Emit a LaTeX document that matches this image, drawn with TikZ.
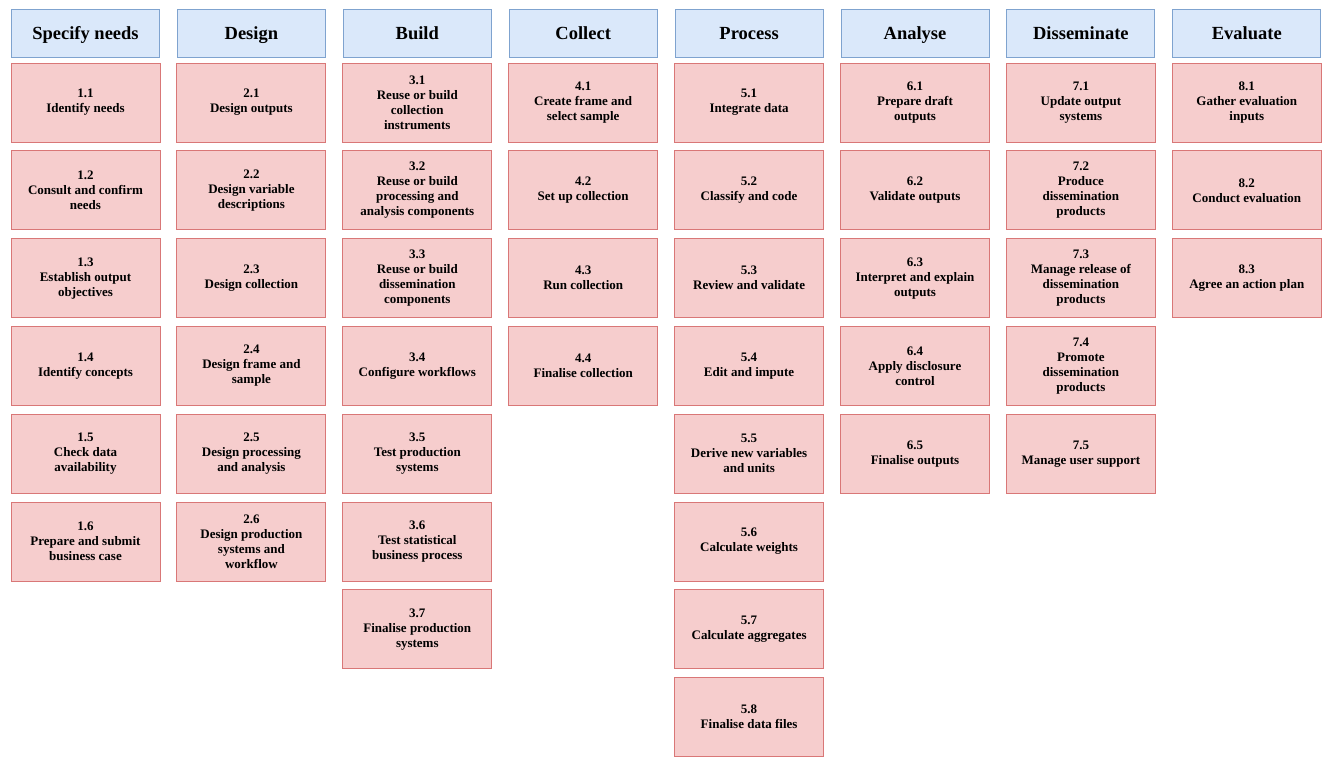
\documentclass[tikz,border=0pt]{standalone}
\usepackage{fontspec}
\setmainfont{Liberation Serif}
\definecolor{hfill}{HTML}{DAE8FA}
\definecolor{hdraw}{HTML}{7FA3CF}
\definecolor{bfill}{HTML}{F6CDCD}
\definecolor{bdraw}{HTML}{D97777}
\tikzset{
  hdrbox/.style={draw=hdraw, fill=hfill, line width=1pt, minimum width=148pt, minimum height=48pt, inner sep=0pt, text height=13pt, text depth=0pt, font=\fontsize{18.5}{21}\selectfont\bfseries, align=center},
  stepbox/.style={draw=bdraw, fill=bfill, line width=1pt, minimum width=149pt, minimum height=79pt, inner sep=0pt, font=\fontsize{13}{15}\selectfont\bfseries, align=center},
}
\begin{document}
\begin{tikzpicture}[x=1pt,y=-1pt]
\useasboundingbox (0,0) rectangle (1335,764);
\foreach \c/\t in {1/Specify needs,2/Design,3/Build,4/Collect,5/Process,6/Analyse,7/Disseminate,8/Evaluate}{
  \node[hdrbox] (h\c) at ({85.5+165.9*(\c-1)},33) {\t};
}
\foreach \c/\r/\t in {
 1/1/{1.1\\Identify needs},
 1/2/{1.2\\Consult and confirm\\needs},
 1/3/{1.3\\Establish output\\objectives},
 1/4/{1.4\\Identify concepts},
 1/5/{1.5\\Check data\\availability},
 1/6/{1.6\\Prepare and submit\\business case},
 2/1/{2.1\\Design outputs},
 2/2/{2.2\\Design variable\\descriptions},
 2/3/{2.3\\Design collection},
 2/4/{2.4\\Design frame and\\sample},
 2/5/{2.5\\Design processing\\and analysis},
 2/6/{2.6\\Design production\\systems and\\workflow},
 3/1/{3.1\\Reuse or build\\collection\\instruments},
 3/2/{3.2\\Reuse or build\\processing and\\analysis components},
 3/3/{3.3\\Reuse or build\\dissemination\\components},
 3/4/{3.4\\Configure workflows},
 3/5/{3.5\\Test production\\systems},
 3/6/{3.6\\Test statistical\\business process},
 3/7/{3.7\\Finalise production\\systems},
 4/1/{4.1\\Create frame and\\select sample},
 4/2/{4.2\\Set up collection},
 4/3/{4.3\\Run collection},
 4/4/{4.4\\Finalise collection},
 5/1/{5.1\\Integrate data},
 5/2/{5.2\\Classify and code},
 5/3/{5.3\\Review and validate},
 5/4/{5.4\\Edit and impute},
 5/5/{5.5\\Derive new variables\\and units},
 5/6/{5.6\\Calculate weights},
 5/7/{5.7\\Calculate aggregates},
 5/8/{5.8\\Finalise data files},
 6/1/{6.1\\Prepare draft\\outputs},
 6/2/{6.2\\Validate outputs},
 6/3/{6.3\\Interpret and explain\\outputs},
 6/4/{6.4\\Apply disclosure\\control},
 6/5/{6.5\\Finalise outputs},
 7/1/{7.1\\Update output\\systems},
 7/2/{7.2\\Produce\\dissemination\\products},
 7/3/{7.3\\Manage release of\\dissemination\\products},
 7/4/{7.4\\Promote\\dissemination\\products},
 7/5/{7.5\\Manage user support},
 8/1/{8.1\\Gather evaluation\\inputs},
 8/2/{8.2\\Conduct evaluation},
 8/3/{8.3\\Agree an action plan}}{
  \node[stepbox] (b\c-\r) at ({85.5+165.9*(\c-1)},{102.5+87.8*(\r-1)}) {\t};
}
\end{tikzpicture}
\end{document}
